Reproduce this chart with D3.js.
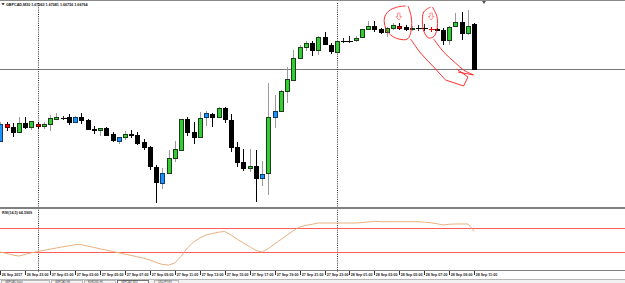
<!DOCTYPE html>
<html><head><meta charset="utf-8">
<script src="https://cdn.jsdelivr.net/npm/d3@7"></script>
<style>html,body{margin:0;padding:0;background:#fff;overflow:hidden}</style>
</head><body><svg id="c" width="625" height="283"></svg>
<script>
const symbolTitle = "GBPCAD,M30 1.67063 1.67081 1.66756 1.66764";
const rsiTitle = "RSI(14,5) 64.5909";
const startTime = new Date(2017, 8, 26, 21, 0);
const barMinutes = 30;

const opens = [1.66255,1.66374,1.66353,1.66318,1.66381,1.66353,1.66374,1.66360,1.66374,1.66409,
 1.66419,1.66423,1.66388,1.66423,1.66402,1.66339,1.66332,1.66346,1.66304,1.66255,
 1.66283,1.66304,1.66297,1.66248,1.66213,1.66073,1.65961,1.66031,1.66136,1.66192,
 1.66409,1.66318,1.66283,1.66423,1.66444,1.66423,1.66486,1.66402,1.66213,1.66108,
 1.66066,1.66080,1.65996,1.66031,1.66423,1.66465,1.66605,1.66682,1.66836,1.66913,
 1.66941,1.66892,1.66983,1.66927,1.66878,1.66955,1.66955,1.66962,1.66983,1.67039,
 1.67060,1.67039,1.67018,1.67046,1.67060,1.67050,1.67036,1.67046,1.67046,1.67039,
 1.67039,1.67032,1.66962,1.67060,1.67088,1.67011,1.67074];
const highs = [1.66388,1.66388,1.66381,1.66423,1.66423,1.66395,1.66388,1.66388,1.66437,1.66451,
 1.66430,1.66444,1.66430,1.66451,1.66409,1.66360,1.66346,1.66353,1.66318,1.66283,
 1.66325,1.66332,1.66318,1.66269,1.66220,1.66087,1.66066,1.66192,1.66255,1.66409,
 1.66423,1.66388,1.66458,1.66465,1.66451,1.66493,1.66493,1.66444,1.66248,1.66199,
 1.66199,1.66192,1.66115,1.66661,1.66577,1.66612,1.66773,1.66892,1.66927,1.66955,
 1.66955,1.66990,1.67018,1.66941,1.66962,1.66976,1.66990,1.66990,1.67039,1.67095,
 1.67095,1.67046,1.67053,1.67081,1.67081,1.67067,1.67060,1.67067,1.67074,1.67053,
 1.67046,1.67046,1.67060,1.67151,1.67158,1.67172,1.67081];
const lows = [1.66248,1.66325,1.66283,1.66311,1.66339,1.66332,1.66339,1.66339,1.66325,1.66402,
 1.66402,1.66367,1.66381,1.66374,1.66332,1.66304,1.66290,1.66290,1.66248,1.66234,
 1.66262,1.66276,1.66227,1.66192,1.66052,1.65821,1.65919,1.66024,1.66108,1.66192,
 1.66290,1.66234,1.66276,1.66360,1.66353,1.66416,1.66381,1.66178,1.66073,1.66045,
 1.66038,1.65828,1.65940,1.65877,1.66346,1.66458,1.66521,1.66675,1.66829,1.66885,
 1.66850,1.66857,1.66927,1.66864,1.66871,1.66941,1.66941,1.66948,1.66976,1.67032,
 1.67018,1.67004,1.66983,1.67032,1.67032,1.67025,1.67025,1.67025,1.67025,1.67018,
 1.67025,1.66927,1.66927,1.67053,1.66962,1.66997,1.66759];
const closes = [1.66374,1.66353,1.66318,1.66381,1.66353,1.66395,1.66360,1.66374,1.66416,1.66423,
 1.66419,1.66388,1.66423,1.66402,1.66339,1.66332,1.66343,1.66297,1.66262,1.66283,
 1.66304,1.66297,1.66241,1.66213,1.66080,1.65968,1.66031,1.66136,1.66199,1.66409,
 1.66318,1.66283,1.66416,1.66451,1.66423,1.66486,1.66409,1.66213,1.66108,1.66066,
 1.66080,1.65996,1.66024,1.66423,1.66465,1.66605,1.66689,1.66836,1.66913,1.66941,
 1.66892,1.66983,1.66934,1.66885,1.66955,1.66955,1.66955,1.66976,1.67039,1.67060,
 1.67039,1.67018,1.67046,1.67067,1.67046,1.67039,1.67046,1.67046,1.67046,1.67039,
 1.67029,1.66962,1.67053,1.67088,1.67011,1.67060,1.66759];
// highlighted bars: "b" = blue bull bar, "r" = red bear bar
const highlights = ["b","r","","","","","r","","","",
 "","","b","","","","","","","b",
 "","","","","","","b","","","",
 "","","","b","","","","","","",
 "","","b","","b","","","","","",
 "","","","","","","","","","",
 "","","","","r","","","","","r",
 "","","","","","",""];
const rsiValues = [30,27.5,25,23.3,26,28.7,30.8,32.8,34.7,36.7,
 38.7,40.3,42.3,42.2,40,37.7,35.3,33.2,31,28.7,
 26.5,24.2,22,19.7,16.7,12.5,9.2,8.3,11.7,23,
 36.7,46.7,53.3,58.3,60.8,63,64.2,58.3,51.3,45,
 38.8,32.5,30,35.8,43.5,50.8,58.2,65.5,71.7,74.2,
 76.2,78.3,78.3,78.3,78.3,78.3,78.3,78.3,79,80,
 81,80.5,80.5,80.5,80.5,80.5,80.5,80.5,79.7,78.8,
 77.2,75,76.2,76.7,76.7,76.7,64.6];
const rsiLevels = [30, 70];
const hLinePrice = 1.66759;
const daySeparators = [new Date(2017, 8, 27, 0, 0), new Date(2017, 8, 28, 0, 0)];
const timeLabels = ["26 Sep 2017","26 Sep 23:00","27 Sep 01:00","27 Sep 03:00","27 Sep 05:00",
 "27 Sep 07:00","27 Sep 09:00","27 Sep 11:00","27 Sep 13:00","27 Sep 15:00","27 Sep 17:00",
 "27 Sep 19:00","27 Sep 21:00","27 Sep 23:00","28 Sep 01:00","28 Sep 03:00","28 Sep 05:00",
 "28 Sep 07:00","28 Sep 09:00","28 Sep 11:00"];
const labelEvery = 4;
const tabNames = ["GBPCAD,Daily","GBPCAD,H4","EURUSD,H1","GBPCAD,M30","USDJPY,H1"];
// hand-drawn annotation strokes as [bar index, price]
const annCircle1 = [[65.0,1.67200],[63.7,1.67193],[62.3,1.67165],[61.6,1.67116],[61.8,1.67046],[62.6,1.66997],[63.9,1.66969],[65.3,1.66969],[65.9,1.67032],[65.9,1.67123],[65.4,1.67200]];
const annTail1 = [[65.8,1.66969],[67.4,1.66871],[69.5,1.66773],[71.4,1.66682],[74.3,1.66640],[75.0,1.66703],[73.2,1.66759]];
const annCircle2 = [[69.0,1.67193],[67.9,1.67158],[67.7,1.67088],[67.9,1.67025],[68.7,1.66976],[69.6,1.66990],[70.1,1.67060],[70.0,1.67130],[69.3,1.67193]];
const annTail2 = [[69.5,1.66969],[71.1,1.66878],[73.0,1.66801],[74.3,1.66752],[75.9,1.66717],[73.4,1.66738]];
const annArrows = [[63.9,1.67151],[69.1,1.67151]];

const svg = d3.select("#c");
const W = 625, H = 283;
const n = opens.length;
const times = d3.range(n).map(i => d3.timeMinute.offset(startTime, barMinutes * i));
const x = d3.scaleTime().domain([times[0], times[n - 1]]).range([0.3, 474.2]);
const xi = d3.scaleLinear().domain([0, n - 1]).range([0.3, 474.2]);
const y = d3.scaleLinear().domain([1.65793, 1.67228]).range([207, 2]);
const yr = d3.scaleLinear().domain([0, 100]).range([270, 210]);
const FONT = "'Liberation Sans', Arial, sans-serif";

svg.append("rect").attr("width", W).attr("height", H).attr("fill", "#fff");

// horizontal line object
svg.append("line").attr("x1", 0).attr("x2", W)
  .attr("y1", Math.round(y(hLinePrice)) + 0.5).attr("y2", Math.round(y(hLinePrice)) + 0.5)
  .attr("stroke", "#7a7a7a").attr("stroke-width", 1);

// period separators
svg.selectAll("line.sep").data(daySeparators).enter().append("line")
  .attr("x1", d => Math.round(x(d)) + 0.5).attr("x2", d => Math.round(x(d)) + 0.5)
  .attr("y1", 3).attr("y2", 272)
  .attr("stroke", "#333").attr("stroke-width", 1).attr("stroke-dasharray", "1,1.2");

// candles
const bars = d3.range(n).map(i => ({i, t: times[i], o: opens[i], h: highs[i], l: lows[i], c: closes[i], m: highlights[i]}));
const g = svg.append("g").attr("shape-rendering", "crispEdges");
bars.forEach(d => {
  const cx = Math.round(x(d.t)) + 0.5;
  const up = d.c > d.o || d.m === "b";
  const doji = Math.abs(d.c - d.o) < 0.00002;
  const wickCol = d.m === "r" ? "#000" : (up ? "#9a9a9a" : "#000");
  g.append("line").attr("x1", cx).attr("x2", cx).attr("y1", y(d.h)).attr("y2", y(d.l))
    .attr("stroke", doji ? (d.m === "r" ? "#e00" : "#222") : wickCol).attr("stroke-width", 1);
  if (doji) {
    g.append("line").attr("x1", cx - 3).attr("x2", cx + 3)
      .attr("y1", Math.round(y(d.o)) + 0.5).attr("y2", Math.round(y(d.o)) + 0.5)
      .attr("stroke", d.m === "r" ? "#f00" : "#000").attr("stroke-width", 1);
    return;
  }
  const top = Math.min(y(d.o), y(d.c)), bot = Math.max(y(d.o), y(d.c));
  let fill, stroke;
  if (d.m === "b") { fill = "#1e90ff"; stroke = "#0b3d66"; }
  else if (d.m === "r") { fill = "#ff0000"; stroke = "#600"; }
  else if (up) { fill = "#32cd32"; stroke = "#1c3d1c"; }
  else { fill = "#000"; stroke = "#000"; }
  g.append("rect").attr("x", cx - 2).attr("y", Math.round(top) + 0.5)
    .attr("width", 4).attr("height", Math.max(1, Math.round(bot - top)))
    .attr("fill", fill).attr("stroke", stroke).attr("stroke-width", 1);
});

// annotations
const annLine = d3.line().x(p => xi(p[0])).y(p => y(p[1])).curve(d3.curveCatmullRom);
const annLin = d3.line().x(p => xi(p[0])).y(p => y(p[1]));
const ann = svg.append("g").attr("fill", "none").attr("stroke", "#ff1a1a").attr("stroke-width", 0.9);
ann.append("path").attr("d", annLine(annCircle1));
ann.append("path").attr("d", annLine(annTail1.slice(0, 4)) );
ann.append("path").attr("d", annLin(annTail1.slice(3)));
ann.append("path").attr("d", annLine(annCircle2));
ann.append("path").attr("d", annLine(annTail2.slice(0, 5)));
ann.append("path").attr("d", annLin(annTail2.slice(4)));
annArrows.forEach(p => {
  const ax = xi(p[0]), ay = y(p[1]);
  const pts = [[ax-1.2,ay],[ax+1.2,ay],[ax+1.2,ay+3.5],[ax+2.8,ay+3.5],[ax,ay+7],[ax-2.8,ay+3.5],[ax-1.2,ay+3.5]];
  svg.append("polygon").attr("points", pts.map(q => q.join(",")).join(" "))
    .attr("fill", "#fff").attr("stroke", "#ff6a6a").attr("stroke-width", 0.7);
});

// top border and title
svg.append("rect").attr("x", 0).attr("y", 0).attr("width", W).attr("height", 1).attr("fill", "#8a8a8a");
svg.append("polygon").attr("points", "1.5,3.3 4.5,3.3 3,5.3").attr("fill", "#000");
svg.append("text").attr("x", 6).attr("y", 5.6).attr("font-family", FONT).attr("font-size", 3.7)
  .attr("font-weight", "bold").attr("fill", "#111").text(symbolTitle);
// chart shift marker
svg.append("polygon").attr("points", "482,1 486,1 484,4").attr("fill", "#555");

// pane separators
svg.append("rect").attr("x", 0).attr("y", 207).attr("width", W).attr("height", 2).attr("fill", "#808080");
svg.append("rect").attr("x", 0).attr("y", 270).attr("width", W).attr("height", 1).attr("fill", "#808080");

// RSI pane
svg.selectAll("line.lvl").data(rsiLevels).enter().append("line")
  .attr("x1", 0).attr("x2", W)
  .attr("y1", d => Math.round(yr(d)) + 0.5).attr("y2", d => Math.round(yr(d)) + 0.5)
  .attr("stroke", "#ff5a5a").attr("stroke-width", 1);
svg.append("path").datum(rsiValues)
  .attr("d", d3.line().x((v, i) => x(times[i])).y(v => yr(v)))
  .attr("fill", "none").attr("stroke", "#eab07e").attr("stroke-width", 1);
svg.append("text").attr("x", 2).attr("y", 214.4).attr("font-family", FONT).attr("font-size", 3.7)
  .attr("font-weight", "bold").attr("fill", "#222").text(rsiTitle);

// time axis
const ax = svg.append("g");
timeLabels.forEach((lab, k) => {
  const tx = Math.round(x(times[k * labelEvery])) + 0.5;
  ax.append("line").attr("x1", tx).attr("x2", tx).attr("y1", 271).attr("y2", 275)
    .attr("stroke", "#000").attr("stroke-width", 0.8);
  ax.append("text").attr("x", tx + 1.2).attr("y", 276.2).attr("font-family", FONT)
    .attr("font-size", 3.6).attr("font-weight", "bold").attr("fill", "#222").text(lab);
});

// bottom tab bar
svg.append("rect").attr("x", 0).attr("y", 279).attr("width", W).attr("height", 4).attr("fill", "#f2f2f2");
svg.append("line").attr("x1", 0).attr("x2", W).attr("y1", 279.5).attr("y2", 279.5).attr("stroke", "#b8b8b8");
const tabW = [50, 33, 33, 33, 26];
let tx0 = 1;
tabNames.forEach((nm, k) => {
  const active = nm === "GBPCAD,M30";
  svg.append("rect").attr("x", tx0 + 0.5).attr("y", 280.5).attr("width", tabW[k] - 2).attr("height", 4)
    .attr("fill", active ? "#fff" : "#f2f2f2").attr("stroke", active ? "#555" : "#aaa").attr("stroke-width", 0.8);
  svg.append("text").attr("x", tx0 + 4).attr("y", 282.8).attr("font-family", FONT).attr("font-size", 2.6)
    .attr("fill", "#444").text(nm);
  tx0 += tabW[k] + (k === 3 ? 4 : 0);
});
</script></body></html>
